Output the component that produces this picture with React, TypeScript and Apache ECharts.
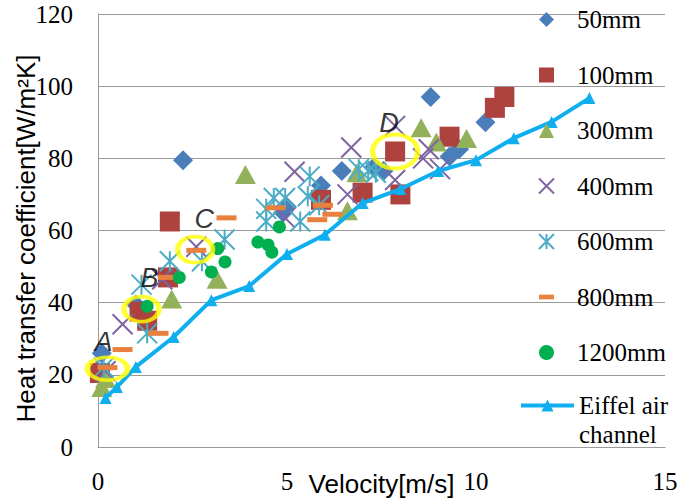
import { useEffect, useRef } from "react";
import * as echarts from "echarts";

// ---------- data ----------
const seriesNames = ["50mm", "100mm", "300mm", "400mm", "600mm", "800mm", "1200mm"];
const lineName = "Eiffel air channel";

const xTitle = "Velocity[m/s]";
const yTitle = "Heat transfer coefficient[W/m²K]";
const xRange = [0, 15, 5]; // min, max, interval
const yRange = [0, 120, 20];

const pts50mm: [number, number][] = [
  [0.1, 26], [1.0, 39.5], [2.25, 79.5], [4.9, 65], [5.0, 66.5], [5.9, 72.5], [6.45, 76.5],
  [7.3, 77.5], [7.55, 76.5], [9.3, 80.5], [9.55, 82.5], [8.8, 97], [10.25, 90],
];
const pts100mm: [number, number][] = [
  [0.05, 20.5], [1.1, 37.5], [1.3, 35], [1.85, 47], [1.9, 62.5], [5.9, 68.5], [7.0, 70.5],
  [7.86, 81.9], [8.0, 70], [9.3, 86], [10.5, 94], [10.75, 97],
];
const pts300mm: [number, number][] = [
  [0.1, 16.5], [0.2, 19], [1.95, 41], [3.15, 46.5], [3.9, 75.5], [6.6, 65.5], [6.85, 76],
  [8.55, 88.5], [8.95, 84.5], [9.75, 85.5],
];
const pts400mm: [number, number][] = [
  [0.2, 21], [0.65, 34], [1.7, 46.5], [2.6, 55.5], [4.95, 63.5], [5.2, 76.3], [6.6, 70],
  [6.7, 83], [7.86, 89], [7.86, 74], [8.6, 80], [8.75, 82.5], [9.05, 77],
];
const pts600mm: [number, number][] = [
  [0.15, 22], [1.15, 45], [1.3, 31.5], [1.9, 51.5], [2.75, 51.5], [3.35, 57.5], [4.45, 66],
  [4.45, 62.5], [4.65, 69], [4.95, 69], [5.35, 62.5], [5.55, 69.5], [5.6, 75], [5.85, 67],
  [6.9, 77], [7.15, 76.5], [7.35, 76],
];
const pts800mm: [number, number][] = [
  [0.25, 22], [0.65, 27], [1.6, 31.5], [1.85, 47], [2.6, 54.5], [3.4, 63.5], [4.7, 66.3],
  [5.8, 63], [5.95, 67], [6.2, 64.5],
];
const pts1200mm: [number, number][] = [
  [1.3, 39], [2.15, 47], [3.0, 48.5], [3.17, 55], [3.36, 51.3], [4.23, 56.8], [4.5, 56],
  [4.6, 54], [4.8, 61],
];
const eiffelVelocity = [0.2, 0.5, 1, 2, 3, 4, 5, 6, 7, 8, 9, 10, 11, 12, 13];
const eiffelCoefficient = [13.6, 16.6, 22.2, 30.5, 40.7, 44.6, 53.5, 58.8, 67.6, 71.5, 76.5, 79.5, 85.6, 90.1, 96.7];

const annotationLabels = ["A", "B", "C", "D"];
const annotationPoints: [number, number][] = [[0.25, 21.7], [1.15, 38.2], [2.57, 54.7], [7.86, 81.9]];

// ---------- styles ----------
const SERIF = "Liberation Serif";
const SANS = "Liberation Sans";
const GRID = "#9a9a9a";

const scatterData = [pts50mm, pts100mm, pts300mm, pts400mm, pts600mm, pts800mm, pts1200mm];
const markerStyles: { symbol: string; size: number | number[]; color: string; stroke?: number }[] = [
  { symbol: "diamond", size: 20, color: "#4A7EBB" },
  { symbol: "rect", size: 20, color: "#AE423F" },
  { symbol: "triangle", size: [21, 19], color: "#92B15A" },
  { symbol: "path://M0,0L20,20M20,0L0,20", size: 20, color: "#7F63A1", stroke: 2 },
  { symbol: "path://M0,0L20,20M20,0L0,20M10,0L10,20", size: 20, color: "#4BACC6", stroke: 2 },
  { symbol: "path://M0,0H16V5H0Z", size: [20, 5], color: "#E8803E" },
  { symbol: "circle", size: 13, color: "#00B050" },
];
const ringLayout = [
  { size: [40, 23], offset: [-4, -27] },
  { size: [35, 25], offset: [8, -31] },
  { size: [35, 26], offset: [9, -31] },
  { size: [45, 34], offset: [-6, -28] },
];

function buildOption(): echarts.EChartsCoreOption {
  const scatterSeries = scatterData.map((pts, i) => {
    const m = markerStyles[i];
    return {
      type: "scatter",
      name: seriesNames[i],
      data: pts,
      symbol: m.symbol,
      symbolSize: m.size,
      itemStyle: m.stroke
        ? { color: m.color, borderColor: m.color, borderWidth: m.stroke, opacity: 1 }
        : { color: m.color, opacity: 1 },
      emphasis: { disabled: true },
    };
  });

  const lineSeries = {
    type: "line",
    name: lineName,
    data: eiffelVelocity.map((v, i) => [v, eiffelCoefficient[i]]),
    symbol: "triangle",
    symbolSize: 12,
    showSymbol: true,
    lineStyle: { width: 4, color: "#0FAFEF" },
    itemStyle: { color: "#0FAFEF" },
    emphasis: { disabled: true },
  };

  const ringSeries = {
    type: "scatter",
    name: "annotations",
    data: annotationPoints.map((p, i) => ({
      value: p,
      symbolSize: ringLayout[i].size,
      label: { offset: ringLayout[i].offset },
    })),
    symbol: "path://M0,10A10,10,0,1,1,20,10A10,10,0,1,1,0,10Z",
    itemStyle: { color: "rgba(0,0,0,0)", borderColor: "#FFFF00", borderWidth: 4.5 },
    label: {
      show: true,
      position: "inside",
      formatter: (p: any) => annotationLabels[p.dataIndex],
      fontFamily: SANS,
      fontStyle: "italic",
      fontSize: 27,
      color: "#000",
    },
    emphasis: { disabled: true },
    z: 5,
  };

  return {
    animation: false,
    backgroundColor: "#fff",
    textStyle: { fontFamily: SERIF },
    grid: { left: 98, top: 14, right: 28, bottom: 52, containLabel: false, outerBoundsMode: "none" },
    xAxis: {
      type: "value",
      min: xRange[0],
      max: xRange[1],
      interval: xRange[2],
      axisLine: { show: true, lineStyle: { color: GRID, width: 1 } },
      axisTick: { show: false },
      splitLine: { show: false },
      axisLabel: { margin: 22, fontFamily: SERIF, fontSize: 25, color: "#000" },
      name: xTitle,
      nameLocation: "middle",
      nameGap: 24,
      nameMoveOverlap: false,
      nameTextStyle: { fontFamily: SANS, fontSize: 26, color: "#000" },
    },
    yAxis: {
      type: "value",
      min: yRange[0],
      max: yRange[1],
      interval: yRange[2],
      axisLine: { show: true, lineStyle: { color: GRID, width: 1 } },
      axisTick: { show: false },
      splitLine: { show: true, lineStyle: { color: GRID, width: 1 } },
      axisLabel: { margin: 25, fontFamily: SERIF, fontSize: 25, color: "#000" },
      name: yTitle,
      nameLocation: "middle",
      nameGap: 59,
      nameRotate: 90,
      nameMoveOverlap: false,
      nameTextStyle: { fontFamily: SANS, fontSize: 26, color: "#000", padding: [0, 16, 0, 0] },
    },
    legend: [
      {
        data: seriesNames,
        orient: "vertical",
        left: 538,
        top: 7,
        padding: 0,
        itemWidth: 15,
        itemHeight: 15,
        itemGap: 30.5,
        selectedMode: false,
        textStyle: { fontFamily: SERIF, fontSize: 25, lineHeight: 25, color: "#000", padding: [0, 0, 0, 18] },
      },
      {
        data: [lineName],
        orient: "vertical",
        left: 519,
        top: 362,
        padding: 0,
        itemWidth: 53,
        itemHeight: 15,
        selectedMode: false,
        formatter: () => "\nEiffel air\nchannel",
        lineStyle: { width: 4 },
        textStyle: { fontFamily: SERIF, fontSize: 25, lineHeight: 29, color: "#000" },
      },
    ],
    series: [...scatterSeries, lineSeries, ringSeries],
  };
}

export default function App() {
  const ref = useRef<HTMLDivElement>(null);
  useEffect(() => {
    if (!ref.current) return;
    const chart = echarts.init(ref.current, null, { renderer: "svg" });
    chart.setOption(buildOption());
    return () => chart.dispose();
  }, []);
  return (
    <div
      ref={ref}
      style={{ position: "fixed", left: 0, top: 0, width: 693, height: 499, background: "#fff" }}
    />
  );
}
